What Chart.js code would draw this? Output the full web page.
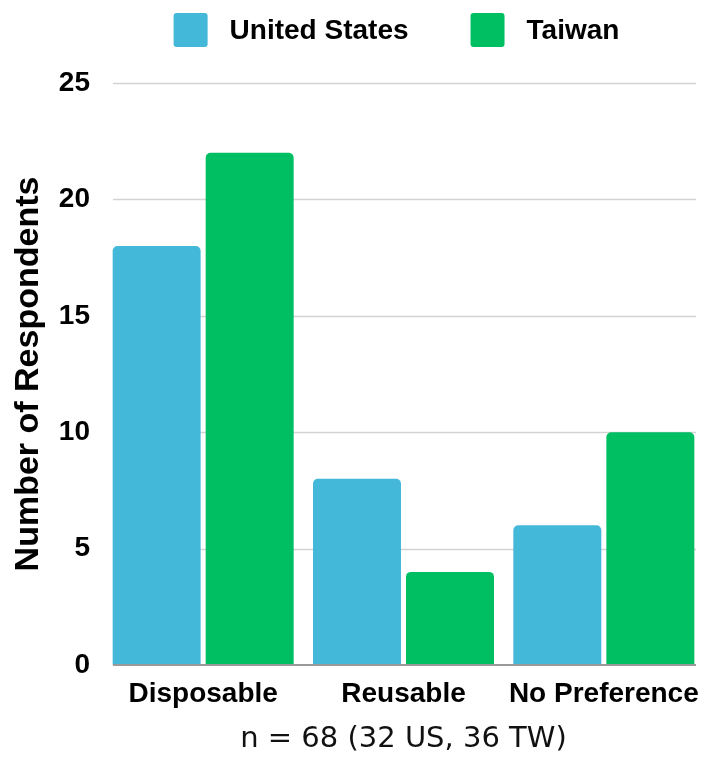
<!DOCTYPE html>
<html>
<head>
<meta charset="utf-8">
<script src="https://cdn.jsdelivr.net/npm/chart.js@4.4.1/dist/chart.umd.min.js"></script>
<style>
  html, body { margin: 0; padding: 0; background: #ffffff; }
  #wrap { position: relative; width: 704px; height: 757px; }
</style>
</head>
<body>
<div id="wrap"><canvas id="chart"></canvas></div>
<script>
// Survey answers: preferred type of item, by country
const categories = ['Disposable', 'Reusable', 'No Preference'];
const seriesNames = ['United States', 'Taiwan'];
const usValues = [18, 8, 6];
const twValues = [22, 4, 10];
const yTicks = [0, 5, 10, 15, 20, 25];
const xAxisTitle = 'n = 68 (32 US, 36 TW)';
const yAxisTitle = 'Number of Respondents';

const BLUE = '#44b8d8';
const GREEN = '#00bf63';
const BOLD_FAMILY = "'Liberation Sans', Arial, sans-serif";

// Horizontal grid lines behind the bars, baseline on top of them
const hGrid = {
  id: 'hGrid',
  beforeDatasetsDraw(chart, args, opts) {
    const { ctx, chartArea } = chart;
    const ys = chart.scales.y;
    const x0 = chartArea.left + opts.insetLeft;
    const x1 = chartArea.right - opts.insetRight;
    ctx.save();
    ctx.strokeStyle = opts.color;
    ctx.lineWidth = opts.width;
    ys.ticks.forEach(t => {
      if (t.value === 0) return;
      const py = Math.round(ys.getPixelForValue(t.value)) + 0.5;
      ctx.beginPath();
      ctx.moveTo(x0, py);
      ctx.lineTo(x1, py);
      ctx.stroke();
    });
    ctx.restore();
  },
  afterDatasetsDraw(chart, args, opts) {
    const { ctx, chartArea } = chart;
    const ys = chart.scales.y;
    const x0 = chartArea.left + opts.insetLeft;
    const x1 = chartArea.right - opts.insetRight;
    const py = ys.getPixelForValue(0);
    ctx.save();
    ctx.strokeStyle = opts.baseColor;
    ctx.lineWidth = opts.baseWidth;
    ctx.beginPath();
    ctx.moveTo(x0, py);
    ctx.lineTo(x1, py);
    ctx.stroke();
    ctx.restore();
  }
};

// Legend row above the plot
const topLegend = {
  id: 'topLegend',
  afterDraw(chart, args, opts) {
    const ctx = chart.ctx;
    ctx.save();
    ctx.font = 'bold 28px ' + BOLD_FAMILY;
    const items = chart.data.datasets.map(ds => ({
      label: ds.label,
      color: ds.backgroundColor,
      w: ctx.measureText(ds.label).width
    }));
    const box = opts.box, gap = opts.gap, spacing = opts.spacing;
    const total = items.reduce((s, it) => s + box + gap + it.w, 0) + spacing * (items.length - 1);
    let x = opts.centerX - total / 2;
    const yMid = opts.centerY;
    items.forEach(it => {
      ctx.fillStyle = it.color;
      ctx.beginPath();
      ctx.roundRect(x, yMid - box / 2, box, box, 3);
      ctx.fill();
      ctx.fillStyle = '#000000';
      ctx.textBaseline = 'middle';
      ctx.textAlign = 'left';
      ctx.fillText(it.label, x + box + gap, yMid + 1);
      x += box + gap + it.w + spacing;
    });
    ctx.restore();
  }
};

const barStyle = {
  borderRadius: 5,
  borderSkipped: 'start',
  categoryPercentage: 0.9286,
  barPercentage: 0.946
};

new Chart(document.getElementById('chart'), {
  type: 'bar',
  data: {
    labels: categories,
    datasets: [
      Object.assign({ label: seriesNames[0], data: usValues, backgroundColor: BLUE }, barStyle),
      Object.assign({ label: seriesNames[1], data: twValues, backgroundColor: GREEN }, barStyle)
    ]
  },
  options: {
    responsive: true,
    maintainAspectRatio: false,
    animation: false,
    devicePixelRatio: 1,
    layout: { padding: { top: 83, left: 0, right: 0, bottom: 0 } },
    plugins: {
      legend: { display: false },
      tooltip: { enabled: false },
      topLegend: { centerX: 396.5, centerY: 30, box: 34, gap: 22, spacing: 62 },
      hGrid: { insetLeft: 10, insetRight: 8, color: '#d3d3d3', width: 1.5, baseColor: '#9a9a9a', baseWidth: 2 }
    },
    scales: {
      x: {
        grid: { display: false, drawTicks: false },
        border: { display: false },
        ticks: {
          color: '#000000',
          font: { family: BOLD_FAMILY, size: 28, weight: 'bold' },
          padding: 12,
          maxRotation: 0,
          autoSkip: false
        },
        title: {
          display: true,
          text: xAxisTitle,
          color: '#111111',
          font: { family: "'DejaVu Sans', sans-serif", size: 29 },
          padding: { top: 0, bottom: 0 }
        },
        afterFit(scale) {
          scale.height = 92;
          scale.paddingLeft = 0;
          scale.paddingRight = 0;
        }
      },
      y: {
        min: 0,
        max: 25,
        grid: { display: false, drawTicks: false },
        border: { display: false },
        ticks: {
          color: '#000000',
          font: { family: BOLD_FAMILY, size: 28, weight: 'bold' },
          padding: 13
        },
        afterBuildTicks(scale) { scale.ticks = yTicks.map(v => ({ value: v })); },
        title: {
          display: true,
          text: yAxisTitle,
          color: '#000000',
          font: { family: BOLD_FAMILY, size: 34, weight: 'bold' },
          padding: { top: 8, bottom: 0 }
        },
        afterFit(scale) { scale.width = 103; }
      }
    }
  },
  plugins: [hGrid, topLegend]
});
</script>
</body>
</html>
